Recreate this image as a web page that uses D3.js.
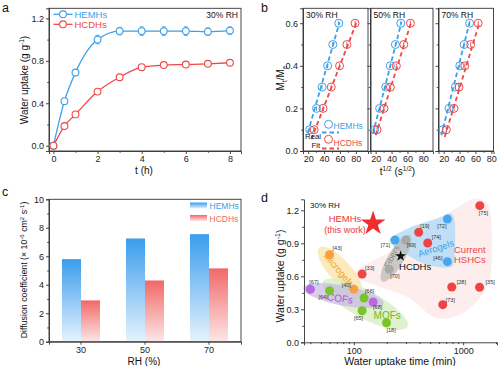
<!DOCTYPE html>
<html>
<head>
<meta charset="utf-8">
<script src="https://cdn.jsdelivr.net/npm/d3@7"></script>
<style>
body { margin: 0; background: #fff; }
svg { display: block; }
</style>
</head>
<body>
<script>
// ---------- data ----------
// a: water uptake vs time at 30% RH
var timeH = [0, 0.5, 1, 2, 3, 4, 5, 6, 7, 8];
var hemUptake = [0, 0.42, 0.69, 1.0, 1.08, 1.08, 1.08, 1.08, 1.075, 1.085];
var hemErr = [0, 0, 0.01, 0.04, 0.035, 0.04, 0.04, 0.04, 0.035, 0.035];
var hcdUptake = [0, 0.185, 0.295, 0.51, 0.645, 0.74, 0.76, 0.765, 0.772, 0.782];
var hcdErr = [0, 0.01, 0.01, 0.01, 0.01, 0.015, 0.01, 0.01, 0.01, 0.01];

// b: Mt/Me vs t^1/2 at three RH levels
var rhLevels = ["30% RH", "50% RH", "70% RH"];
var ratioMtMe = [0.1, 0.2, 0.3, 0.4, 0.5, 0.6];
var hemSqrtT = [[22, 30.5, 37.5, 44.5, 51, 58.5], [18.7, 25, 32.6, 38.5, 44.8, 51.6], [19, 26.7, 34.7, 40.3, 45.8, 52.6]];
var hcdSqrtT = [[27.5, 38.7, 49, 59.5, 68.7, 79], [21.7, 30.5, 38.5, 46, 55.4, 63.7], [23.4, 33, 39.3, 46.6, 54, 63.4]];
var hemFit = [[[19.5, 0.085], [59.5, 0.605]], [[16.6, 0.082], [52.5, 0.605]], [[17.1, 0.074], [52.6, 0.605]]];
var hcdFit = [[[24, 0.055], [81, 0.605]], [[20, 0.074], [64.7, 0.605]], [[21.3, 0.066], [65.2, 0.605]]];

// c: diffusion coefficients
var rhCats = ["30", "50", "70"];
var hemDiff = [5.8, 7.25, 7.55];
var hcdDiff = [2.9, 4.3, 5.15];

// d: comparison with literature
var litRef = ["[75]", "[72]", "[19]", "[74]", "[71]", "[69]", "[46]", "[70]", "[33]", "[43]", "[67]", "[64]", "[40]", "[66]", "[68]", "[65]", "[18]", "[28]", "[35]", "[73]"];
var litTime = [1420, 718, 392, 474, 238, 298, 718, 211, 119, 60, 40, 60, 100, 124, 150, 119, 199, 787, 1413, 651];
var litUptake = [1.242, 1.12, 1.0, 0.903, 0.93, 0.93, 0.733, 0.664, 0.62, 0.796, 0.482, 0.469, 0.482, 0.403, 0.366, 0.287, 0.178, 0.503, 0.5, 0.342];
var litGroup = ["hshc", "aerogel", "hshc", "hshc", "aerogel", "fiber", "aerogel", "fiber", "hshc", "microgel", "cof", "mof", "microgel", "mof", "cof", "mof", "mof", "hshc", "hshc", "hshc"];
var thisWork = { time: 150, uptake: 1.08 };
var hcdPoint = { time: 268, uptake: 0.785 };

// ---------- setup ----------
var font = "'Liberation Sans', Arial, sans-serif";
var blue = "#3d9fe9", red = "#ee4848";

var svg = d3.select("body").append("svg")
    .attr("width", 500)
    .attr("height", 366)
    .style("font-family", font);

function styleAxis(g) {
    g.attr("font-family", font).attr("font-size", 9);
    g.select(".domain").attr("stroke", "#333").attr("stroke-width", 0.9);
    g.selectAll(".tick line").attr("stroke", "#333").attr("stroke-width", 0.9);
    g.selectAll(".tick text").attr("fill", "#222");
}
function minorAxis(parent, axisFn, scale, values, tr) {
    parent.append("g").attr("transform", tr)
        .call(axisFn(scale).tickValues(values).tickSize(1.8).tickFormat(""))
        .call(styleAxis)
        .call(function(g) { g.select(".domain").remove(); });
}
function frame(parent, xs, ys) {
    parent.append("rect")
        .attr("x", xs.range()[0]).attr("y", ys.range()[1])
        .attr("width", xs.range()[1] - xs.range()[0])
        .attr("height", ys.range()[0] - ys.range()[1])
        .attr("fill", "none").attr("stroke", "#333").attr("stroke-width", 0.9);
}
function letter(t, x, y) {
    svg.append("text").attr("x", x).attr("y", y).attr("font-size", 12.5).attr("fill", "#111").text(t);
}

// ---------- panel a ----------
var gA = svg.append("g");
var ax = d3.scaleLinear().domain([-0.2, 8.5]).range([49, 241]);
var ay = d3.scaleLinear().domain([-0.05, 1.295]).range([151, 8.3]);

gA.append("g").attr("transform", "translate(0,151)")
    .call(d3.axisBottom(ax).tickValues([0, 2, 4, 6, 8]).tickSize(3).tickPadding(2))
    .call(styleAxis);
minorAxis(gA, d3.axisBottom, ax, [1, 3, 5, 7], "translate(0,151)");
gA.append("g").attr("transform", "translate(49,0)")
    .call(d3.axisLeft(ay).tickValues([0, 0.4, 0.8, 1.2]).tickSize(3).tickPadding(2).tickFormat(d3.format(".1f")))
    .call(styleAxis);
minorAxis(gA, d3.axisLeft, ay, [0.2, 0.6, 1.0], "translate(49,0)");
frame(gA, ax, ay);

[{ v: hemUptake, e: hemErr, c: blue }, { v: hcdUptake, e: hcdErr, c: red }].forEach(function(s) {
    var pts = timeH.map(function(t, i) { return { t: t, v: s.v[i], e: s.e[i] }; });
    gA.append("path").datum(pts)
        .attr("d", d3.line().x(function(d) { return ax(d.t); }).y(function(d) { return ay(d.v); }).curve(d3.curveMonotoneX))
        .attr("fill", "none").attr("stroke", s.c).attr("stroke-width", 1.3);
    var eb = gA.append("g").attr("stroke", s.c).attr("stroke-width", 0.9);
    pts.filter(function(d) { return d.e > 0; }).forEach(function(d) {
        eb.append("line").attr("x1", ax(d.t)).attr("x2", ax(d.t)).attr("y1", ay(d.v - d.e)).attr("y2", ay(d.v + d.e));
        eb.append("line").attr("x1", ax(d.t) - 2).attr("x2", ax(d.t) + 2).attr("y1", ay(d.v - d.e)).attr("y2", ay(d.v - d.e));
        eb.append("line").attr("x1", ax(d.t) - 2).attr("x2", ax(d.t) + 2).attr("y1", ay(d.v + d.e)).attr("y2", ay(d.v + d.e));
    });
    gA.selectAll(null).data(pts).enter().append("circle")
        .attr("cx", function(d) { return ax(d.t); }).attr("cy", function(d) { return ay(d.v); })
        .attr("r", 3.4).attr("fill", "#fff").attr("stroke", s.c).attr("stroke-width", 1.1);
});

// legend a
[["HEMHs", blue, 14.3], ["HCDHs", red, 24.3]].forEach(function(l) {
    gA.append("line").attr("x1", 53.5).attr("x2", 72.5).attr("y1", l[2]).attr("y2", l[2]).attr("stroke", l[1]).attr("stroke-width", 1.3);
    gA.append("circle").attr("cx", 63).attr("cy", l[2]).attr("r", 3.4).attr("fill", "#fff").attr("stroke", l[1]).attr("stroke-width", 1.1);
    gA.append("text").attr("x", 74.5).attr("y", l[2] + 3.3).attr("font-size", 9.5).attr("fill", l[1]).text(l[0]);
});
gA.append("text").attr("x", 238).attr("y", 18).attr("text-anchor", "end").attr("font-size", 8.5).attr("fill", "#111").text("30% RH");

gA.append("text").attr("x", 144).attr("y", 173.5).attr("text-anchor", "middle").attr("font-size", 10).attr("fill", "#111").text("t (h)");
var aYl = gA.append("text").attr("transform", "translate(28,80) rotate(-90)").attr("text-anchor", "middle").attr("font-size", 10).attr("fill", "#111");
aYl.append("tspan").text("Water uptake (g g");
aYl.append("tspan").attr("font-size", 6.5).attr("dy", -4).text("-1");
aYl.append("tspan").attr("dy", 4).text(")");
letter("a", 2, 12);

// ---------- panel b ----------
var gB = svg.append("g");
var by = d3.scaleLinear().domain([0, 0.67]).range([151, 8.3]);
var bLeft = [303, 370.5, 438.5], bWidth = [65, 62.5, 55];
var bErr = 0.012;

rhLevels.forEach(function(rh, k) {
    var bx = d3.scaleLinear().domain([13.5, 13.5 + bWidth[k] / 0.795]).range([bLeft[k], bLeft[k] + bWidth[k]]);
    gB.append("g").attr("transform", "translate(0,151)")
        .call(d3.axisBottom(bx).tickValues([20, 40, 60, 80]).tickSize(3).tickPadding(2))
        .call(styleAxis);
    minorAxis(gB, d3.axisBottom, bx, [30, 50, 70], "translate(0,151)");
    gB.append("g").attr("transform", "translate(" + bLeft[k] + ",0)")
        .call(d3.axisLeft(by).tickValues([0, 0.2, 0.4, 0.6]).tickSize(3).tickPadding(2)
            .tickFormat(k === 0 ? d3.format(".1f") : ""))
        .call(styleAxis);
    minorAxis(gB, d3.axisLeft, by, [0.1, 0.3, 0.5], "translate(" + bLeft[k] + ",0)");
    frame(gB, bx, by);
    gB.append("text").attr("x", bLeft[k] + 3).attr("y", 18).attr("font-size", 8.5).attr("fill", "#111").text(rh);

    [[hemFit[k], blue], [hcdFit[k], red]].forEach(function(f) {
        gB.append("line")
            .attr("x1", bx(f[0][0][0])).attr("y1", by(f[0][0][1]))
            .attr("x2", bx(f[0][1][0])).attr("y2", by(f[0][1][1]))
            .attr("stroke", f[1]).attr("stroke-width", 1.8).attr("stroke-dasharray", "4.5,3");
    });
    [[hemSqrtT[k], blue], [hcdSqrtT[k], red]].forEach(function(s) {
        s[0].forEach(function(t, i) {
            gB.append("line").attr("x1", bx(t)).attr("x2", bx(t))
                .attr("y1", by(ratioMtMe[i] - bErr)).attr("y2", by(ratioMtMe[i] + bErr))
                .attr("stroke", s[1]).attr("stroke-width", 0.9);
            gB.append("circle").attr("cx", bx(t)).attr("cy", by(ratioMtMe[i])).attr("r", 4)
                .attr("fill", "none").attr("stroke", s[1]).attr("stroke-width", 1);
        });
    });
});

// legend b
gB.append("circle").attr("cx", 328.5).attr("cy", 124.3).attr("r", 4).attr("fill", "none").attr("stroke", blue);
gB.append("text").attr("x", 333.5).attr("y", 129).attr("font-size", 8.5).attr("fill", blue).text("HEMHs");
gB.append("circle").attr("cx", 328.5).attr("cy", 139.3).attr("r", 4).attr("fill", "none").attr("stroke", red);
gB.append("text").attr("x", 333.5).attr("y", 146).attr("font-size", 8.5).attr("fill", red).text("HCDHs");
gB.append("text").attr("x", 305).attr("y", 139.2).attr("font-size", 7.8).attr("fill", "#111").text("Real");
gB.append("text").attr("x", 311.5).attr("y", 148.3).attr("font-size", 7.8).attr("fill", "#111").text("Fit");
gB.append("line").attr("x1", 322).attr("x2", 339).attr("y1", 132.5).attr("y2", 132.5).attr("stroke", blue).attr("stroke-width", 1.8).attr("stroke-dasharray", "4.5,3");
gB.append("line").attr("x1", 322).attr("x2", 339).attr("y1", 148.5).attr("y2", 148.5).attr("stroke", red).attr("stroke-width", 1.8).attr("stroke-dasharray", "4.5,3");

var bXl = gB.append("text").attr("x", 397.5).attr("y", 174.5).attr("text-anchor", "middle").attr("font-size", 10).attr("fill", "#111");
bXl.append("tspan").text("t");
bXl.append("tspan").attr("font-size", 6.5).attr("dy", -4).text("1/2");
bXl.append("tspan").attr("dy", 4).text(" (s");
bXl.append("tspan").attr("font-size", 6.5).attr("dy", -4).text("1/2");
bXl.append("tspan").attr("dy", 4).text(")");
var bYl = gB.append("text").attr("transform", "translate(284,78) rotate(-90)").attr("text-anchor", "middle").attr("font-size", 10).attr("fill", "#111");
bYl.append("tspan").text("M");
bYl.append("tspan").attr("font-size", 6.5).attr("dy", 2.5).text("t");
bYl.append("tspan").attr("dy", -2.5).text("/M");
bYl.append("tspan").attr("font-size", 6.5).attr("dy", 2.5).text("e");
letter("b", 261, 12);

// ---------- panel c ----------
var gC = svg.append("g");
var defs = svg.append("defs");
[["gBlue", "#3a9ded", "#e6f3fd"], ["gRed", "#f26868", "#fce7e7"]].forEach(function(g) {
    var lg = defs.append("linearGradient").attr("id", g[0]).attr("x1", 0).attr("y1", 0).attr("x2", 0).attr("y2", 1);
    lg.append("stop").attr("offset", "0%").attr("stop-color", g[1]);
    lg.append("stop").attr("offset", "100%").attr("stop-color", g[2]);
});
var cx = d3.scaleBand().domain(rhCats).range([49, 241]);
var cSub = d3.scaleBand().domain(["HEMHs", "HCDHs"]).range([-19, 19]);
var cy = d3.scaleLinear().domain([0, 10]).range([341.7, 199.3]);

gC.append("g").attr("transform", "translate(0,341.7)")
    .call(d3.axisBottom(cx).tickSize(3).tickPadding(2))
    .call(styleAxis);
gC.append("g").attr("transform", "translate(49,0)")
    .call(d3.axisLeft(cy).tickValues([0, 2, 4, 6, 8, 10]).tickSize(3).tickPadding(2))
    .call(styleAxis);
minorAxis(gC, d3.axisLeft, cy, [1, 3, 5, 7, 9], "translate(49,0)");

[["HEMHs", hemDiff, "url(#gBlue)"], ["HCDHs", hcdDiff, "url(#gRed)"]].forEach(function(s) {
    gC.selectAll(null).data(rhCats).enter().append("rect")
        .attr("x", function(d) { return cx(d) + cx.bandwidth() / 2 + cSub(s[0]); })
        .attr("width", cSub.bandwidth())
        .attr("y", function(d, i) { return cy(s[1][i]); })
        .attr("height", function(d, i) { return cy(0) - cy(s[1][i]); })
        .attr("fill", s[2]);
});
frame(gC, d3.scaleLinear().range([49, 241]), cy);

[["HEMHs", "url(#gBlue)", "#3a9ded", 202.5], ["HCDHs", "url(#gRed)", "#f26868", 215]].forEach(function(l) {
    gC.append("rect").attr("x", 190).attr("y", l[3]).attr("width", 17).attr("height", 6).attr("fill", l[1]);
    gC.append("text").attr("x", 209.5).attr("y", l[3] + 6.5).attr("font-size", 8.5).attr("fill", l[2]).text(l[0]);
});
gC.append("text").attr("x", 144).attr("y", 364.5).attr("text-anchor", "middle").attr("font-size", 10).attr("fill", "#111").text("RH (%)");
var cYl = gC.append("text").attr("transform", "translate(27,270) rotate(-90)").attr("text-anchor", "middle").attr("font-size", 8.8).attr("fill", "#111");
cYl.append("tspan").text("Diffusion coefficient (\u00d7 10");
cYl.append("tspan").attr("font-size", 6).attr("dy", -3.5).text("-6");
cYl.append("tspan").attr("dy", 3.5).text(" cm");
cYl.append("tspan").attr("font-size", 6).attr("dy", -3.5).text("2");
cYl.append("tspan").attr("dy", 3.5).text(" s");
cYl.append("tspan").attr("font-size", 6).attr("dy", -3.5).text("-1");
cYl.append("tspan").attr("dy", 3.5).text(")");
letter("c", 2, 196);

// ---------- panel d ----------
var gD = svg.append("g");
var dx = d3.scaleLog().domain([35, 2040]).range([304, 497]);
var dy = d3.scaleLinear().domain([0, 1.3]).range([342.3, 199.3]);
var groupColor = { hshc: "#ee4444", aerogel: "#4aa6ec", fiber: "#a8a8a8", microgel: "#f5a23e", cof: "#b868e0", mof: "#78c42a" };

var blobs = gD.append("g");
function blob(pts, fill, op) {
    blobs.append("path")
        .attr("d", d3.line().x(function(d) { return dx(d[0]); }).y(function(d) { return dy(d[1]); })
            .curve(d3.curveCardinalClosed.tension(0.1))(pts))
        .attr("fill", fill).attr("opacity", op);
}
function ellipse(c, rx, ry, ang, fill, op) {
    blobs.append("ellipse")
        .attr("transform", "translate(" + dx(c[0]) + "," + dy(c[1]) + ") rotate(" + ang + ")")
        .attr("rx", rx).attr("ry", ry)
        .attr("fill", fill).attr("opacity", op);
}
blob([[108, 0.66], [300, 0.9], [1000, 1.26], [1530, 1.29], [1800, 1.14], [1750, 0.57], [1080, 0.29], [574, 0.22], [304, 0.415], [122, 0.56]], "#fde8e8", 0.8);
blob([[212, 0.93], [320, 1.04], [560, 1.12], [760, 1.17], [840, 1.08], [830, 0.74], [720, 0.68], [450, 0.71], [280, 0.82]], "#b5dcf7", 0.85);
ellipse([243, 0.764], 27, 8, -59, "#b8b8b8", 0.7);
ellipse([74.8, 0.65], 31, 11, 48, "#fce5b0", 0.85);
ellipse([126.6, 0.346], 48, 14, 28, "#d9eec6", 0.85);
ellipse([80.2, 0.424], 41, 10, 11, "#c8b8e2", 0.7);

gD.append("g").attr("transform", "translate(0,342.3)")
    .call(d3.axisBottom(dx).tickValues([100, 1000]).tickSize(3).tickPadding(2).tickFormat(d3.format("d")))
    .call(styleAxis);
minorAxis(gD, d3.axisBottom, dx, [40, 50, 60, 70, 80, 90, 200, 300, 400, 500, 600, 700, 800, 900, 2000], "translate(0,342.3)");
gD.append("g").attr("transform", "translate(304,0)")
    .call(d3.axisLeft(dy).tickValues([0, 0.3, 0.6, 0.9, 1.2]).tickSize(3).tickPadding(2).tickFormat(d3.format(".1f")))
    .call(styleAxis);
minorAxis(gD, d3.axisLeft, dy, [0.15, 0.45, 0.75, 1.05], "translate(304,0)");

// group labels
function gLabel(t, p, ang, col, size, anchor) {
    gD.append("text")
        .attr("transform", "translate(" + dx(p[0]) + "," + dy(p[1]) + ") rotate(" + ang + ")")
        .attr("text-anchor", anchor || "middle").attr("dy", "0.35em")
        .attr("font-size", size).attr("fill", col).text(t);
}
gLabel("Microgels", [73, 0.66], 50, "#f0a030", 9.5);
gLabel("COFs", [74.7, 0.4], 8, "#a85ad6", 10);
gLabel("MOFs", [202, 0.242], 0, "#6cbc22", 10);
gLabel("Aerogels", [564, 0.855], -18, "#3d9fe9", 9.5);
gLabel("Fibers", [222, 0.778], -63, "#8a8a8a", 8.5);
gLabel("Current", [1151, 0.839], 0, "#ee4444", 9.5);
gLabel("HSHCs", [1151, 0.755], 0, "#ee4444", 9.5);
gLabel("HCDHs", [259, 0.687], 0, "#111", 9.5, "start");
gLabel("HEMHs", [83, 1.124], 0, "#ee3333", 9.5);
gLabel("(this work)", [83, 1.025], 0, "#ee3333", 9);

// literature points
var tagPlace = {
    "[75]": [-1, 7, "start"], "[72]": [-1, 7, "end"], "[19]": [1.5, -6, "start"], "[74]": [4, -6, "start"],
    "[71]": [-5, 5, "end"], "[69]": [1, 5.5, "start"], "[46]": [-5, -4, "end"], "[70]": [1, 7, "start"],
    "[33]": [3, -6, "start"], "[43]": [3, -7, "start"], "[67]": [-1, -7, "start"], "[64]": [-2, 6, "end"],
    "[40]": [-3, -4, "end"], "[66]": [1, -7, "start"], "[68]": [0, 5.5, "start"], "[65]": [1, 7, "end"],
    "[18]": [0, 7, "start"], "[28]": [5, -5, "start"], "[35]": [6, -5, "start"], "[73]": [3, -4.5, "start"]
};
litRef.forEach(function(r, i) {
    var px = dx(litTime[i]), py = dy(litUptake[i]);
    gD.append("circle").attr("cx", px).attr("cy", py).attr("r", 4.5).attr("fill", groupColor[litGroup[i]]);
    var p = tagPlace[r];
    gD.append("text").attr("x", px + p[0]).attr("y", py + p[1]).attr("dy", "0.35em")
        .attr("text-anchor", p[2]).attr("font-size", 5.5).attr("fill", "#333").text(r);
});
gD.append("path")
    .attr("transform", "translate(" + dx(thisWork.time) + "," + dy(thisWork.uptake) + ")")
    .attr("d", d3.symbol(d3.symbolStar, 190)()).attr("fill", "#ee2e2e");
gD.append("path")
    .attr("transform", "translate(" + dx(hcdPoint.time) + "," + dy(hcdPoint.uptake) + ")")
    .attr("d", d3.symbol(d3.symbolStar, 38)()).attr("fill", "#111");

gD.append("text").attr("x", 310).attr("y", 207.5).attr("font-size", 8).attr("fill", "#111").text("30% RH");
gD.append("text").attr("x", 400).attr("y", 364.5).attr("text-anchor", "middle").attr("font-size", 10.5).attr("fill", "#111").text("Water uptake time (min)");
var dYl = gD.append("text").attr("transform", "translate(284,276) rotate(-90)").attr("text-anchor", "middle").attr("font-size", 10.5).attr("fill", "#111");
dYl.append("tspan").text("Water uptake (g g");
dYl.append("tspan").attr("font-size", 7).attr("dy", -4).text("-1");
dYl.append("tspan").attr("dy", 4).text(")");
letter("d", 261, 202);
</script>
</body>
</html>
